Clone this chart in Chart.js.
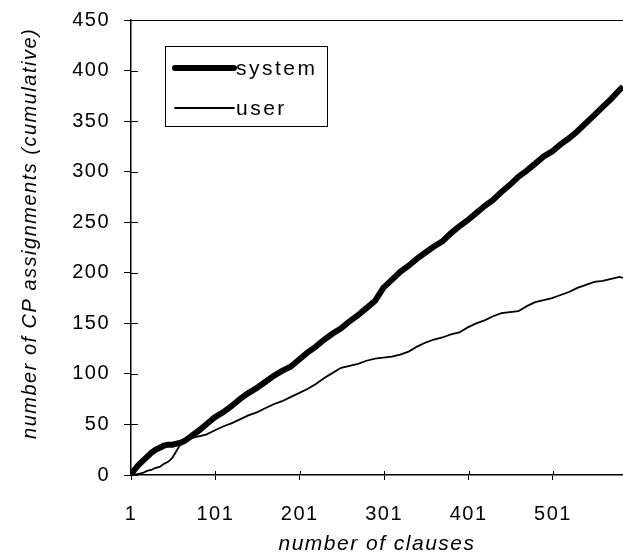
<!DOCTYPE html>
<html>
<head>
<meta charset="utf-8">
<title>CP assignments</title>
<script src="https://cdn.jsdelivr.net/npm/chart.js@4/dist/chart.umd.min.js"></script>
<style>
  html, body { margin: 0; padding: 0; background: #fff; }
</style>
</head>
<body>
<canvas id="cpChart" width="623" height="559"></canvas>
<script>
// clause index (x) and cumulative counts
const clauses = [1, 5, 10, 15, 20, 25, 30, 35, 40, 45, 50, 55, 60, 65, 70, 75, 80, 90, 100,
    110, 120, 130, 140, 150, 160, 170, 180, 190, 200, 210, 220, 230, 240, 250, 260, 270, 280,
    290, 300, 310, 320, 330, 340, 350, 360, 370, 380, 390, 400, 410, 420, 430, 440, 450, 460,
    470, 480, 490, 500, 510, 520, 530, 540, 550, 560, 570, 580, 584];
const systemCounts = [0, 5, 10, 14, 18, 22, 25, 27, 29, 30, 30, 31, 32, 34, 37, 40, 43, 50, 57,
    62, 68, 75, 81, 86, 92, 98, 103, 107, 114, 121, 127, 134, 140, 145, 152, 158, 165,
    172, 185, 193, 201, 207, 214, 220, 226, 231, 239, 246, 252, 259, 266, 272, 280, 287, 295,
    301, 308, 315, 320, 327, 333, 340, 348, 356, 364, 372, 381, 384];
const userCounts = [0, 0, 1, 2, 4, 5, 7, 8, 11, 13, 17, 24, 31, 34, 36, 37, 38, 40, 44,
    48, 51, 55, 59, 62, 66, 70, 73, 77, 81, 85, 90, 96, 101, 106, 108, 110, 113,
    115, 116, 117, 119, 122, 127, 131, 134, 136, 139, 141, 146, 150, 153, 157, 160, 161, 162,
    167, 171, 173, 175, 178, 181, 185, 188, 191, 192, 194, 196, 195];
const xTickValues = [1, 101, 201, 301, 401, 501];
const seriesNames = ['system', 'user'];

const FONT = "'Liberation Sans', Arial, sans-serif";

function toPoints(values) {
    return clauses.map((c, i) => ({ x: c, y: values[i] }));
}

// slightly letter-spaced text like the scanned original
const spacing = {
    id: 'spacing',
    beforeDraw(chart) {
        chart.ctx.letterSpacing = '1.5px';
    }
};

// top frame line, inner halves of tick marks, boxed legend
const frame = {
    id: 'frame',
    afterDraw(chart) {
        const ctx = chart.ctx;
        const area = chart.chartArea;
        const xs = chart.scales.x;
        const ys = chart.scales.y;
        ctx.save();
        ctx.strokeStyle = '#000';
        ctx.lineWidth = 1;
        ctx.beginPath();
        ctx.moveTo(area.left, area.top + 0.5);
        ctx.lineTo(area.right, area.top + 0.5);
        ys.ticks.forEach(t => {
            const py = Math.round(ys.getPixelForValue(t.value)) + 0.5;
            ctx.moveTo(area.left, py);
            ctx.lineTo(area.left + 7, py);
        });
        xs.ticks.forEach(t => {
            const px = Math.round(xs.getPixelForValue(t.value)) + 0.5;
            ctx.moveTo(px, area.bottom);
            ctx.lineTo(px, area.bottom - 4);
        });
        ctx.stroke();

        // legend box
        const bx = area.left + 34, by = area.top + 26, bw = 162, bh = 80;
        ctx.fillStyle = '#fff';
        ctx.fillRect(bx, by, bw, bh);
        ctx.strokeRect(bx + 0.5, by + 0.5, bw, bh);
        const rows = [by + 22, by + 62];
        ctx.font = '21px ' + FONT;
        ctx.letterSpacing = '2.5px';
        ctx.textBaseline = 'middle';
        ctx.textAlign = 'left';
        ctx.fillStyle = '#000';
        chart.data.datasets.forEach((ds, i) => {
            ctx.lineWidth = ds.borderWidth;
            ctx.lineCap = 'round';
            ctx.beginPath();
            ctx.moveTo(bx + 10, rows[i]);
            ctx.lineTo(bx + 69, rows[i]);
            ctx.stroke();
            ctx.fillText(ds.label, bx + 71, rows[i] + 1);
        });
        ctx.restore();
    }
};

new Chart(document.getElementById('cpChart'), {
    type: 'line',
    data: {
        datasets: [
            {
                label: seriesNames[0],
                data: toPoints(systemCounts),
                borderColor: '#000',
                borderWidth: 6,
                pointRadius: 0,
                tension: 0
            },
            {
                label: seriesNames[1],
                data: toPoints(userCounts),
                borderColor: '#000',
                borderWidth: 1.8,
                pointRadius: 0,
                tension: 0
            }
        ]
    },
    options: {
        responsive: false,
        animation: false,
        layout: { padding: { left: 0, top: 20, right: 0, bottom: 0 } },
        plugins: {
            legend: { display: false },
            tooltip: { enabled: false }
        },
        scales: {
            x: {
                type: 'linear',
                min: 1,
                max: 584,
                afterBuildTicks: scale => {
                    scale.ticks = xTickValues.map(v => ({ value: v }));
                },
                afterFit: scale => { scale.height = 84; },
                grid: { drawOnChartArea: false, drawTicks: true, tickLength: 5, color: '#000' },
                border: { color: '#000', width: 1.5 },
                ticks: {
                    color: '#000',
                    font: { family: FONT, size: 20 },
                    padding: 22,
                    maxRotation: 0,
                    autoSkip: false
                },
                title: {
                    display: true,
                    text: 'number of clauses',
                    color: '#000',
                    font: { family: FONT, size: 21, style: 'italic' },
                    padding: { top: 0, bottom: 2 }
                }
            },
            y: {
                min: 0,
                max: 450,
                afterFit: scale => { scale.width = 131; },
                grid: { drawOnChartArea: false, drawTicks: true, tickLength: 7, color: '#000' },
                border: { color: '#000', width: 1.5 },
                ticks: {
                    stepSize: 50,
                    color: '#000',
                    font: { family: FONT, size: 20, lineHeight: 0.6 },
                    padding: 14
                },
                title: {
                    display: true,
                    text: '    number of CP assignments (cumulative)',
                    color: '#000',
                    font: { family: FONT, size: 20, style: 'italic' },
                    padding: { top: 18, bottom: 0 }
                }
            }
        }
    },
    plugins: [spacing, frame]
});
</script>
</body>
</html>
